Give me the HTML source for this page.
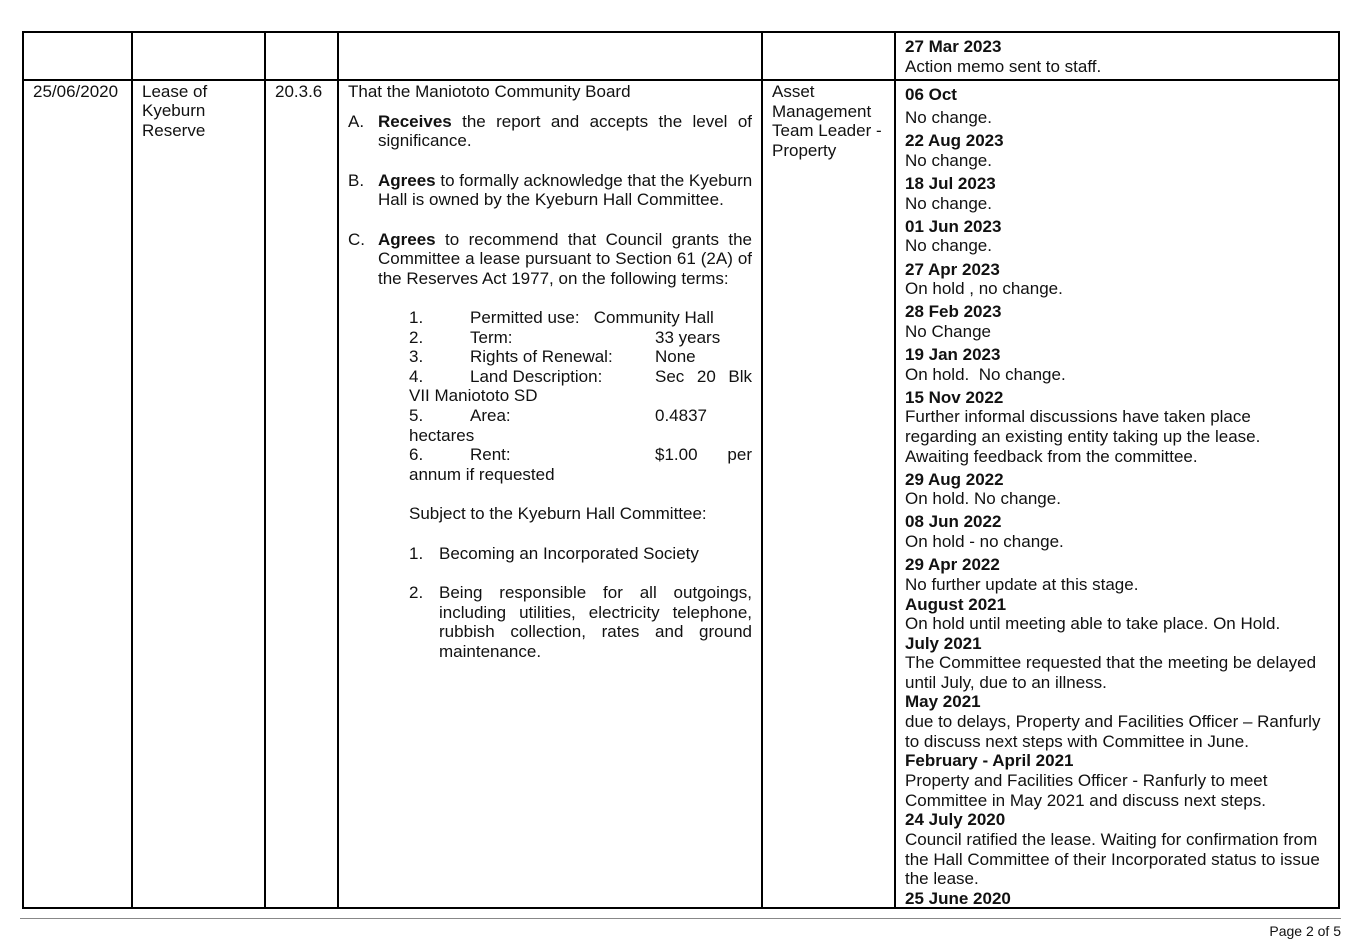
<!DOCTYPE html>
<html><head><meta charset="utf-8"><style>
body{margin:0;background:#fff;}
#p{position:relative;width:1361px;height:939px;overflow:hidden;font-family:"Liberation Sans",Arial,sans-serif;font-size:17px;color:#111;}
.l{position:absolute;white-space:nowrap;line-height:20px;margin-top:1px;}
.j{text-align:justify;text-align-last:justify;white-space:nowrap;}
.v{position:absolute;background:#000;width:2px;}
.h{position:absolute;background:#000;height:2px;}
b{font-weight:bold;}
</style></head><body><div id="p">
<div class="h" style="left:23px;top:31px;width:1317px"></div>
<div class="h" style="left:23px;top:79px;width:1317px"></div>
<div class="h" style="left:23px;top:907px;width:1317px"></div>
<div class="v" style="left:22px;top:31px;height:878px"></div>
<div class="v" style="left:131px;top:31px;height:878px"></div>
<div class="v" style="left:264px;top:31px;height:878px"></div>
<div class="v" style="left:337px;top:31px;height:878px"></div>
<div class="v" style="left:761px;top:31px;height:878px"></div>
<div class="v" style="left:894px;top:31px;height:878px"></div>
<div class="v" style="left:1338px;top:31px;height:878px"></div>
<div style="position:absolute;left:20px;top:918px;width:1321px;height:1px;background:#888"></div>
<div class="l" style="right:20px;top:920px;font-size:14px">Page 2 of 5</div>

<div class="l" style="left:33px;top:81px">25/06/2020</div>
<div class="l" style="left:142px;top:81px">Lease of</div>
<div class="l" style="left:142px;top:100px">Kyeburn</div>
<div class="l" style="left:142px;top:120px">Reserve</div>
<div class="l" style="left:275px;top:81px">20.3.6</div>

<div class="l" style="left:348px;top:81px">That the Maniototo Community Board</div>
<div class="l" style="left:348px;top:111px">A.</div>
<div class="l j" style="left:378px;top:111px;width:374px"><b>Receives</b> the report and accepts the level of</div>
<div class="l" style="left:378px;top:130px">significance.</div>
<div class="l" style="left:348px;top:170px">B.</div>
<div class="l j" style="left:378px;top:170px;width:374px"><b>Agrees</b> to formally acknowledge that the Kyeburn</div>
<div class="l" style="left:378px;top:189px">Hall is owned by the Kyeburn Hall Committee.</div>
<div class="l" style="left:348px;top:229px">C.</div>
<div class="l j" style="left:378px;top:229px;width:374px"><b>Agrees</b> to recommend that Council grants the</div>
<div class="l j" style="left:378px;top:248px;width:374px">Committee a lease pursuant to Section 61 (2A) of</div>
<div class="l" style="left:378px;top:268px">the Reserves Act 1977, on the following terms:</div>

<div class="l" style="left:409px;top:307px">1.</div><div class="l" style="left:470px;top:307px">Permitted use:&nbsp;&nbsp; Community Hall</div>
<div class="l" style="left:409px;top:327px">2.</div><div class="l" style="left:470px;top:327px">Term:</div><div class="l" style="left:655px;top:327px">33 years</div>
<div class="l" style="left:409px;top:346px">3.</div><div class="l" style="left:470px;top:346px">Rights of Renewal:</div><div class="l" style="left:655px;top:346px">None</div>
<div class="l" style="left:409px;top:366px">4.</div><div class="l" style="left:470px;top:366px">Land Description:</div><div class="l j" style="left:655px;top:366px;width:97px">Sec 20 Blk</div>
<div class="l" style="left:409px;top:385px">VII Maniototo SD</div>
<div class="l" style="left:409px;top:405px">5.</div><div class="l" style="left:470px;top:405px">Area:</div><div class="l" style="left:655px;top:405px">0.4837</div>
<div class="l" style="left:409px;top:425px">hectares</div>
<div class="l" style="left:409px;top:444px">6.</div><div class="l" style="left:470px;top:444px">Rent:</div><div class="l j" style="left:655px;top:444px;width:97px">$1.00 per</div>
<div class="l" style="left:409px;top:464px">annum if requested</div>
<div class="l" style="left:409px;top:503px">Subject to the Kyeburn Hall Committee:</div>
<div class="l" style="left:409px;top:543px">1.</div><div class="l" style="left:439px;top:543px">Becoming an Incorporated Society</div>
<div class="l" style="left:409px;top:582px">2.</div>
<div class="l j" style="left:439px;top:582px;width:313px">Being responsible for all outgoings,</div>
<div class="l j" style="left:439px;top:602px;width:313px">including utilities, electricity telephone,</div>
<div class="l j" style="left:439px;top:621px;width:313px">rubbish collection, rates and ground</div>
<div class="l" style="left:439px;top:641px">maintenance.</div>

<div class="l" style="left:772px;top:81px">Asset</div>
<div class="l" style="left:772px;top:101px">Management</div>
<div class="l" style="left:772px;top:120px">Team Leader -</div>
<div class="l" style="left:772px;top:140px">Property</div>

<div class="l" style="left:905px;top:36px"><b>27 Mar 2023</b></div>
<div class="l" style="left:905px;top:56px">Action memo sent to staff.</div>
<div class="l" style="left:905px;top:84px"><b>06 Oct</b></div>
<div class="l" style="left:905px;top:107px">No change.</div>
<div class="l" style="left:905px;top:130px"><b>22 Aug 2023</b></div>
<div class="l" style="left:905px;top:150px">No change.</div>
<div class="l" style="left:905px;top:173px"><b>18 Jul 2023</b></div>
<div class="l" style="left:905px;top:193px">No change.</div>
<div class="l" style="left:905px;top:216px"><b>01 Jun 2023</b></div>
<div class="l" style="left:905px;top:235px">No change.</div>
<div class="l" style="left:905px;top:259px"><b>27 Apr 2023</b></div>
<div class="l" style="left:905px;top:278px">On hold , no change.</div>
<div class="l" style="left:905px;top:301px"><b>28 Feb 2023</b></div>
<div class="l" style="left:905px;top:321px">No Change</div>
<div class="l" style="left:905px;top:344px"><b>19 Jan 2023</b></div>
<div class="l" style="left:905px;top:364px">On hold.&nbsp; No change.</div>
<div class="l" style="left:905px;top:387px"><b>15 Nov 2022</b></div>
<div class="l" style="left:905px;top:406px">Further informal discussions have taken place</div>
<div class="l" style="left:905px;top:426px">regarding an existing entity taking up the lease.</div>
<div class="l" style="left:905px;top:446px">Awaiting feedback from the committee.</div>
<div class="l" style="left:905px;top:469px"><b>29 Aug 2022</b></div>
<div class="l" style="left:905px;top:488px">On hold. No change.</div>
<div class="l" style="left:905px;top:511px"><b>08 Jun 2022</b></div>
<div class="l" style="left:905px;top:531px">On hold - no change.</div>
<div class="l" style="left:905px;top:554px"><b>29 Apr 2022</b></div>
<div class="l" style="left:905px;top:574px">No further update at this stage.</div>
<div class="l" style="left:905px;top:594px"><b>August 2021</b></div>
<div class="l" style="left:905px;top:613px">On hold until meeting able to take place. On Hold.</div>
<div class="l" style="left:905px;top:633px"><b>July 2021</b></div>
<div class="l" style="left:905px;top:652px">The Committee requested that the meeting be delayed</div>
<div class="l" style="left:905px;top:672px">until July, due to an illness.</div>
<div class="l" style="left:905px;top:691px"><b>May 2021</b></div>
<div class="l" style="left:905px;top:711px">due to delays, Property and Facilities Officer – Ranfurly</div>
<div class="l" style="left:905px;top:731px">to discuss next steps with Committee in June.</div>
<div class="l" style="left:905px;top:750px"><b>February - April 2021</b></div>
<div class="l" style="left:905px;top:770px">Property and Facilities Officer - Ranfurly to meet</div>
<div class="l" style="left:905px;top:790px">Committee in May 2021 and discuss next steps.</div>
<div class="l" style="left:905px;top:809px"><b>24 July 2020</b></div>
<div class="l" style="left:905px;top:829px">Council ratified the lease. Waiting for confirmation from</div>
<div class="l" style="left:905px;top:849px">the Hall Committee of their Incorporated status to issue</div>
<div class="l" style="left:905px;top:868px">the lease.</div>
<div class="l" style="left:905px;top:888px"><b>25 June 2020</b></div>
</div></body></html>
